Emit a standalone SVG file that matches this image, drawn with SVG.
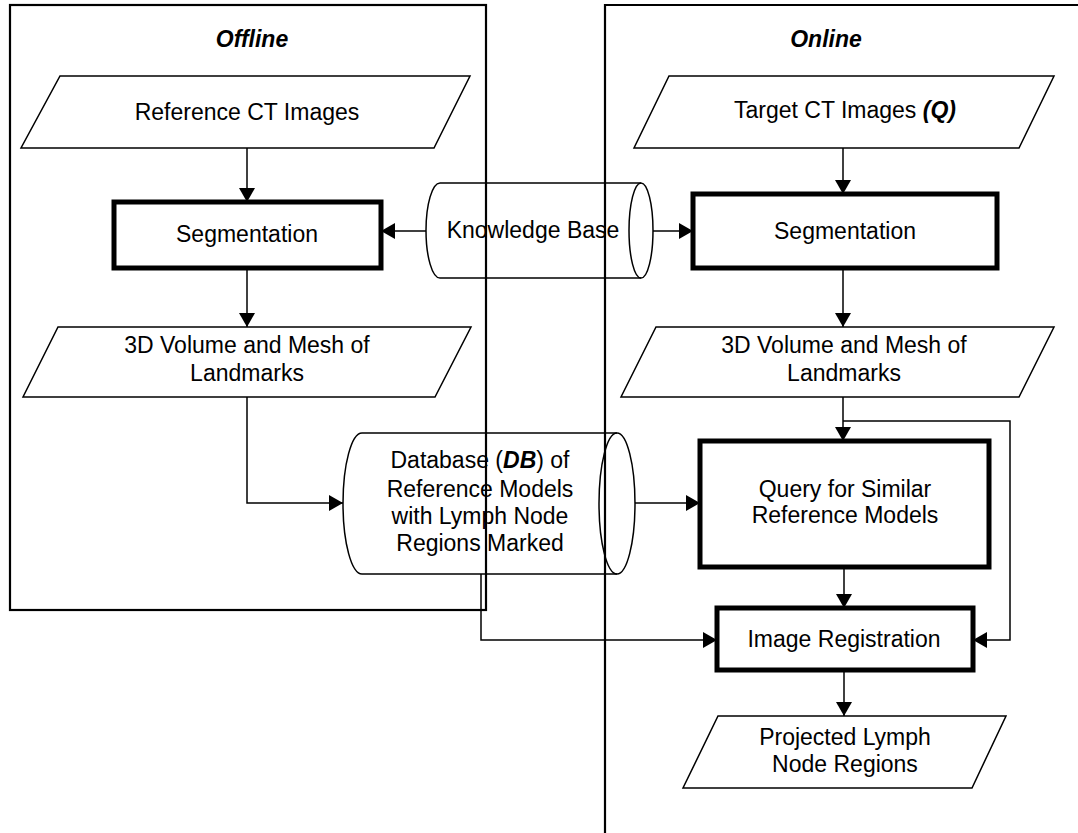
<svg xmlns="http://www.w3.org/2000/svg" width="1078" height="833" viewBox="0 0 1078 833">
<style>
text{font-family:"Liberation Sans",Arial,sans-serif;font-size:23px;fill:#000;text-anchor:middle}
.title{font-weight:bold;font-style:italic}
.bi{font-weight:bold;font-style:italic}
.shape{fill:#fff;stroke:#000;stroke-width:1.5}
.thick{fill:#fff;stroke:#000;stroke-width:5}
.frame{fill:none;stroke:#000;stroke-width:2.2}
.conn{fill:none;stroke:#000;stroke-width:1.5;marker-end:url(#arr)}
.line{fill:none;stroke:#000;stroke-width:1.5}
</style>
<defs>
<marker id="arr" markerUnits="userSpaceOnUse" markerWidth="15" markerHeight="16" refX="14" refY="8" orient="auto">
<path d="M0,0 L14,8 L0,16 Z" fill="#000"/>
</marker>
</defs>
<rect width="1078" height="833" fill="#fff"/>

<g id="connectors">
<line class="conn" x1="247" y1="148" x2="247" y2="202"/>
<line class="conn" x1="247" y1="268" x2="247" y2="327"/>
<polyline class="conn" points="247,397 247,503 343,503"/>
<line class="conn" x1="426" y1="231" x2="381" y2="231"/>
<line class="conn" x1="641" y1="231" x2="693" y2="231"/>
<line class="conn" x1="843" y1="148" x2="843" y2="194"/>
<line class="conn" x1="843" y1="268" x2="843" y2="327"/>
<line class="conn" x1="843" y1="397" x2="843" y2="441"/>
<polyline class="conn" points="843,421 1010,421 1010,640 973,640"/>
<line class="conn" x1="617" y1="503" x2="700" y2="503"/>
<polyline class="conn" points="481,574 481,640 717,640"/>
<line class="conn" x1="844" y1="567" x2="844" y2="608"/>
<line class="conn" x1="844" y1="670" x2="844" y2="716"/>
</g>

<g id="ref-ct">
<polygon class="shape" points="60,76 470,76 434,148 21,148"/>
<text x="247" y="120">Reference CT Images</text>
</g>
<g id="seg-offline">
<rect class="thick" x="114" y="202" width="267" height="66"/>
<text x="247" y="242">Segmentation</text>
</g>
<g id="vol-offline">
<polygon class="shape" points="58,327 471,327 435,397 23,397"/>
<text x="247" y="353">3D Volume and Mesh of</text>
<text x="247" y="381">Landmarks</text>
</g>
<g id="knowledge-base">
<path class="shape" d="M440,183 L641,183 A12,47.5 0 0 1 641,278 L440,278 A14,47.5 0 0 1 440,183 Z"/>
<path class="line" d="M641,278 A12,47.5 0 0 1 641,183"/>
<text x="533" y="238">Knowledge Base</text>
</g>
<g id="database">
<path class="shape" d="M362,433 L617,433 A18,70.5 0 0 1 617,574 L362,574 A19,70.5 0 0 1 362,433 Z"/>
<path class="line" d="M617,574 A18,70.5 0 0 1 617,433"/>
<text x="480" y="468">Database (<tspan class="bi">DB</tspan>) of</text>
<text x="480" y="497">Reference Models</text>
<text x="480" y="524">with Lymph Node</text>
<text x="480" y="551">Regions Marked</text>
</g>
<g id="target-ct">
<polygon class="shape" points="669,76 1054,76 1019,148 634,148"/>
<text x="845" y="118">Target CT Images <tspan class="bi">(Q)</tspan></text>
</g>
<g id="seg-online">
<rect class="thick" x="693" y="194" width="304" height="74"/>
<text x="845" y="239">Segmentation</text>
</g>
<g id="vol-online">
<polygon class="shape" points="656,327 1054,327 1019,397 621,397"/>
<text x="844" y="353">3D Volume and Mesh of</text>
<text x="844" y="381">Landmarks</text>
</g>
<g id="query">
<rect class="thick" x="700" y="441" width="289" height="126"/>
<text x="845" y="497">Query for Similar</text>
<text x="845" y="523">Reference Models</text>
</g>
<g id="image-registration">
<rect class="thick" x="717" y="608" width="256" height="62"/>
<text x="844" y="647">Image Registration</text>
</g>
<g id="projected">
<polygon class="shape" points="718,716 1006,716 972,788 683,788"/>
<text x="845" y="745">Projected Lymph</text>
<text x="845" y="772">Node Regions</text>
</g>

<g id="offline-frame">
<rect class="frame" x="10" y="5" width="476" height="605"/>
<text class="title" x="252" y="47">Offline</text>
</g>
<g id="online-frame">
<path class="frame" d="M605,833 L605,5 L1080,5"/>
<text class="title" x="826" y="47">Online</text>
</g>
</svg>
